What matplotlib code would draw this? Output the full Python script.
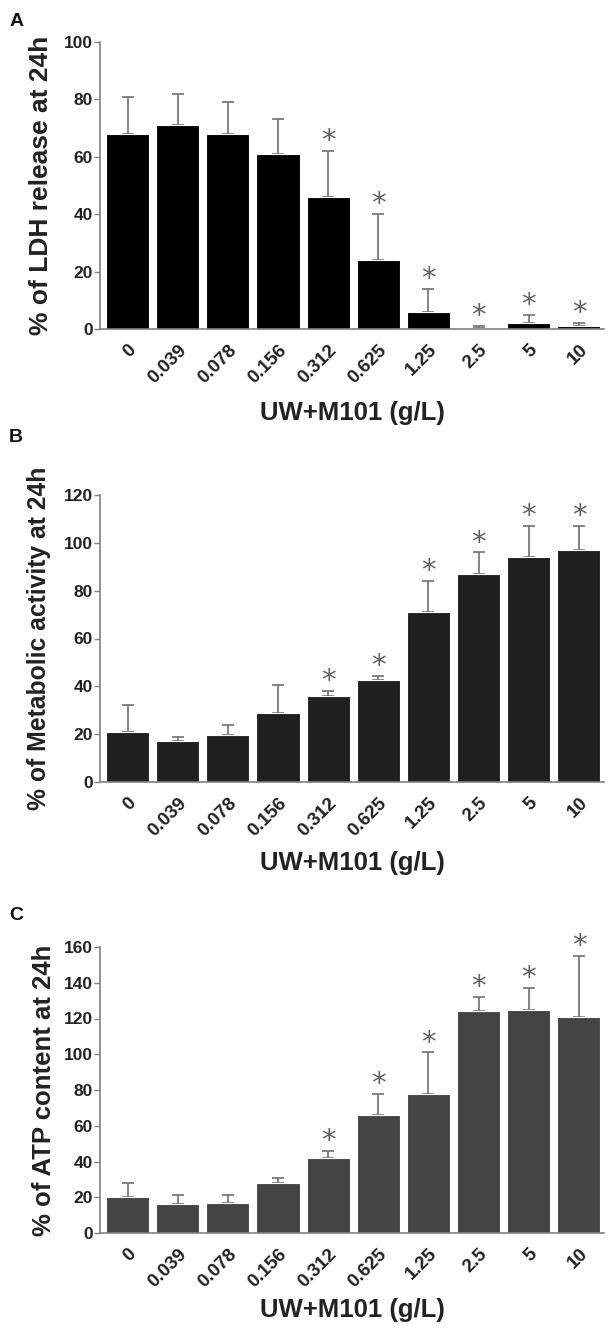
import matplotlib
matplotlib.use("Agg")
import matplotlib.pyplot as plt
import numpy as np

plt.rcParams['font.family'] = ['Liberation Sans', 'DejaVu Sans']

categories = ["0", "0.039", "0.078", "0.156", "0.312", "0.625", "1.25", "2.5", "5", "10"]

ldh_mean = [68, 71, 68, 61, 46, 24, 6, 0.3, 2, 1]
ldh_err = [13, 11, 11, 12, 16, 16, 8, 0.8, 3, 1]
ldh_sig = [False, False, False, False, True, True, True, True, True, True]

met_mean = [21, 17, 19.5, 29, 36, 42.5, 71, 87, 94, 97]
met_err = [11, 2, 4.5, 11.5, 2, 2, 13, 9, 13, 10]
met_sig = [False, False, False, False, True, True, True, True, True, True]

atp_mean = [20, 16, 17, 28, 42, 66, 78, 124, 125, 121]
atp_err = [8, 5, 4, 3, 4, 12, 23, 8, 12, 34]
atp_sig = [False, False, False, False, True, True, True, True, True, True]

H = 1329.0
W = 608.0

panels = [
    dict(letter="A", mean=ldh_mean, err=ldh_err, sig=ldh_sig, color="#000000",
         ylabel="% of LDH release at 24h", ymax=100, ystep=20,
         top_px=42, bot_px=329, letter_px=21, xlab_px=413, ylab_x=41, ylab_fs=19),
    dict(letter="B", mean=met_mean, err=met_err, sig=met_sig, color="#202020",
         ylabel="% of Metabolic activity at 24h", ymax=120, ystep=20,
         top_px=495, bot_px=782, letter_px=438, xlab_px=863, ylab_x=39, ylab_fs=17.8),
    dict(letter="C", mean=atp_mean, err=atp_err, sig=atp_sig, color="#444444",
         ylabel="% of ATP content at 24h", ymax=160, ystep=20,
         top_px=947, bot_px=1233, letter_px=915, xlab_px=1310, ylab_x=44, ylab_fs=18.5),
]

fig = plt.figure(figsize=(W / 100, H / 100), dpi=100)
x = np.arange(len(categories))
spine_c = "#808080"
left_px, right_px = 100, 604
for p in panels:
    rect = [left_px / W, 1 - p["bot_px"] / H, (right_px - left_px) / W,
            (p["bot_px"] - p["top_px"]) / H]
    ax = fig.add_axes(rect)
    ax.bar(x, p["mean"], width=0.86, color=p["color"], edgecolor="white", linewidth=0.8, zorder=2)
    ax.errorbar(x, p["mean"], yerr=[np.zeros(len(x)), p["err"]], fmt="none",
                ecolor="#707070", elinewidth=1.2, capsize=4, capthick=1.2, zorder=1)
    for xi, m, e, s in zip(x, p["mean"], p["err"], p["sig"]):
        if s:
            ax.annotate("*", (xi, m + e), xytext=(0, -3), textcoords="offset points",
                        ha="center", va="bottom", fontsize=21, color="#606060",
                        fontfamily="DejaVu Sans")
    ax.set_xlim(-0.55, 9.5)
    ax.set_ylim(0, p["ymax"])
    ax.set_yticks(np.arange(0, p["ymax"] + 1, p["ystep"]))
    ax.set_xticks(x)
    ax.set_xticklabels(categories, rotation=45, ha="right", va="top",
                       rotation_mode="anchor", fontsize=13.5, fontweight="bold", color="#222222")
    for lab in ax.get_yticklabels():
        lab.set_fontsize(12.5)
        lab.set_fontweight("bold")
        lab.set_color("#222222")
    ax.tick_params(axis="y", length=4, width=1, color=spine_c, pad=1)
    ax.tick_params(axis="x", length=0, pad=9)
    for side in ["top", "right"]:
        ax.spines[side].set_visible(False)
    for side in ["left", "bottom"]:
        ax.spines[side].set_color(spine_c)
        ax.spines[side].set_linewidth(1.2)
    ymid = 1 - (p["top_px"] + p["bot_px"]) / 2 / H
    fig.text(p["ylab_x"] / W, ymid, p["ylabel"], rotation=90, fontsize=p["ylab_fs"],
             fontweight="bold", color="#222222", ha="center", va="center")
    fig.text((left_px + right_px) / 2 / W, 1 - p["xlab_px"] / H, "UW+M101 (g/L)",
             fontsize=18.5, fontweight="bold", color="#222222", ha="center", va="center")
    fig.text(0.015, 1 - p["letter_px"] / H, p["letter"], fontsize=14, fontweight="bold",
             color="#111111", ha="left", va="center")

fig.savefig("out.png", dpi=100, facecolor="white")
